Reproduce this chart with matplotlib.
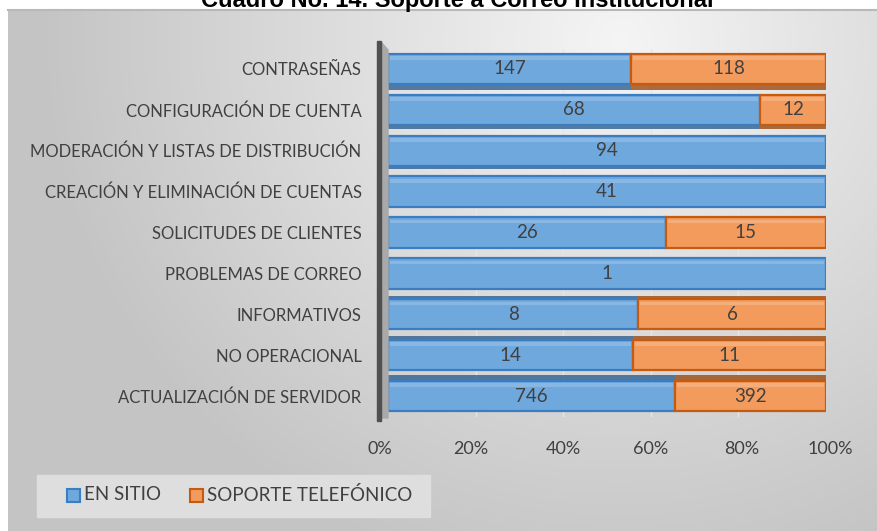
import matplotlib.pyplot as plt
import matplotlib.transforms as mtransforms
import numpy as np
from matplotlib.patches import Rectangle, Polygon

# categories listed bottom -> top
categorias = ['ACTUALIZACIÓN DE SERVIDOR', 'NO OPERACIONAL', 'INFORMATIVOS',
              'PROBLEMAS DE CORREO', 'SOLICITUDES DE CLIENTES',
              'CREACIÓN Y ELIMINACIÓN DE CUENTAS',
              'MODERACIÓN Y LISTAS DE DISTRIBUCIÓN',
              'CONFIGURACIÓN DE CUENTA', 'CONTRASEÑAS']
en_sitio = [746, 14, 8, 1, 26, 41, 94, 68, 147]
soporte_tel = [392, 11, 6, 0, 15, 0, 0, 12, 118]
series = ['EN SITIO', 'SOPORTE TELEFÓNICO']
x_ticks = [0, 0.2, 0.4, 0.6, 0.8, 1.0]
x_labels = ['0%', '20%', '40%', '60%', '80%', '100%']
titulo = 'Cuadro No. 14. Soporte a Correo Institucional'

plt.rcParams['font.family'] = ['Lato', 'DejaVu Sans']
txt = '#404040'

W, H = 878, 531
fig = plt.figure(figsize=(W / 100, H / 100), dpi=100)

# gradient background of chart area
bg = fig.add_axes([8 / W, 0, 1 - 8 / W, 1 - 9 / H], zorder=-10)
yy, xx = np.mgrid[9:H, 8:W]
d = np.hypot((xx - 620) / 1.0, (yy - 40) / 0.95)
v = 0.96 - 0.19 * np.clip(d / 580, 0, 1)
bg.imshow(np.dstack([v, v, v]), aspect='auto', extent=[0, 1, 0, 1])
bg.set_xlim(0, 1)
bg.set_ylim(0, 1)
bg.axis('off')
fig.add_artist(plt.Line2D([8 / W, 1], [1 - 9.5 / H, 1 - 9.5 / H],
                          color='#b8b8b8', lw=1.5))

# title is partly cut off at the top, as in the original
fig.text(457 / W, 1 - 7 / H, titulo, ha='center', va='baseline',
         fontsize=17, fontweight='bold', family='Liberation Sans', color='black')

ax = fig.add_axes([388 / W, 1 - 416.5 / H, 438 / W, 368 / H])
ax.set_facecolor('none')
ax.set_xlim(0, 1)
ax.set_ylim(-0.5, len(categorias) - 0.5)
for s in ax.spines.values():
    s.set_visible(False)

for xt in x_ticks[1:-1]:
    ax.axvline(xt, color='#e6e6e6', lw=1, zorder=0)

tot = np.array(en_sitio) + np.array(soporte_tel)
p1 = np.array(en_sitio) / tot
p2 = np.array(soporte_tel) / tot
y = np.arange(len(categorias))
h = 0.74

colores = [('#6fa8dd', '#3b7dc1', '#2f5f8f'), ('#f39b5c', '#c55a11', '#9c4a12')]
for i in y:
    depth = 0.14 * (i - 4) / 4
    left = 0
    for k, (p, val) in enumerate([(p1[i], en_sitio[i]), (p2[i], soporte_tel[i])]):
        if val == 0:
            continue
        face, edge, dark = colores[k]
        if abs(depth) > 0.01:
            ax.barh(i - depth, p, left=left, height=h, color=dark, alpha=0.8,
                    edgecolor='none', zorder=2)
        ax.barh(i, p, left=left, height=h, color=face, edgecolor=edge,
                lw=1.6, zorder=3)
        # bevel highlight
        ax.barh(i + h * 0.36, p - 0.01, left=left + 0.005, height=h * 0.12,
                color='white', alpha=0.18, edgecolor='none', zorder=4)
        ax.text(left + p / 2, i, str(val), ha='center', va='center',
                fontsize=13.5, color=txt, zorder=5)
        left += p

ax.set_yticks(y)
ax.set_yticklabels(categorias, fontsize=12, color=txt)
ax.set_xticks(x_ticks)
ax.set_xticklabels(x_labels, fontsize=13, color=txt)
ax.tick_params(axis='y', length=0, pad=19)
ax.tick_params(axis='x', length=0, pad=18)
# perspective shift of the percent labels
for lab, dx in zip(ax.get_xticklabels(), [-8, -5, 0, 0, 3, 4]):
    lab.set_transform(lab.get_transform() +
                      mtransforms.ScaledTranslation(dx / 100, 0, fig.dpi_scale_trans))

# 3D wall on the left
fig.add_artist(Polygon([[381 / W, 1 - 42 / H], [388 / W, 1 - 50 / H],
                        [388 / W, 1 - 418 / H], [381 / W, 1 - 418 / H]],
                       closed=True, color='#a9a9a9', zorder=1))
fig.add_artist(Rectangle((377.5 / W, 1 - 421 / H), 3.5 / W, 380 / H,
                         color='#505050', zorder=6))

# legend
fig.add_artist(Rectangle((37 / W, 1 - 517 / H), 393 / W, 42 / H,
                         color='#dedede', zorder=1))
for k, (lbl, xs) in enumerate(zip(series, [67, 190])):
    face, edge, _ = colores[k]
    fig.add_artist(Rectangle((xs / W, 1 - 502 / H), 13 / W, 13 / H,
                             facecolor=face, edgecolor=edge, lw=1.5, zorder=2))
    fig.text((xs + 17) / W, 1 - 495 / H, lbl, ha='left', va='center',
             fontsize=13.5, color=txt)

fig.savefig('out.png', dpi=100)
